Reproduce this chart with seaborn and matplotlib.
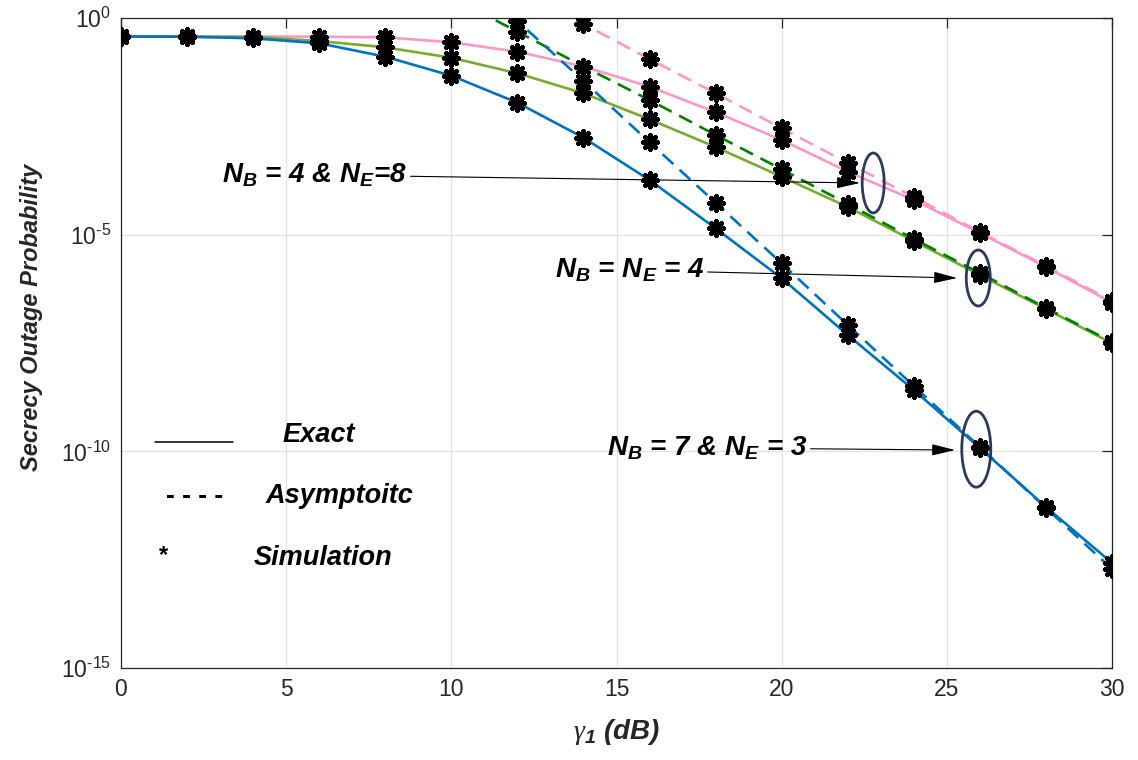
import numpy as np
import pandas as pd
import matplotlib
matplotlib.use("Agg")
import matplotlib.pyplot as plt
from matplotlib.patches import Ellipse
import seaborn as sns

# ---------------- data ----------------
snr_db = [0, 2, 4, 6, 8, 10, 12, 14, 16, 18, 20, 22, 24, 26, 28, 30]

# Exact curves
exact_nb7_ne3 = [0.374, 0.370, 0.340, 0.261, 0.128, 0.0466, 0.0111, 1.73e-3, 1.82e-4,
                 1.40e-5, 9.84e-7, 4.83e-8, 2.60e-9, 1.19e-10, 5.19e-12, 2.64e-13]
exact_nb4_ne4 = [0.374, 0.370, 0.365, 0.294, 0.211, 0.121, 0.0530, 0.0183, 4.59e-3,
                 1.05e-3, 2.17e-4, 4.35e-5, 7.13e-6, 1.17e-6, 1.92e-7, 3.11e-8]
exact_nb4_ne8 = [0.384, 0.378, 0.374, 0.370, 0.359, 0.275, 0.167, 0.0760, 0.0260,
                 6.67e-3, 1.53e-3, 2.84e-4, 6.31e-5, 1.09e-5, 1.79e-6, 2.69e-7]

# Asymptotic curves
asym_snr_nb7_ne3 = [10, 12, 14, 16, 18, 20, 22, 24, 26, 28, 30]
asym_nb7_ne3 = [21.8, 0.853, 0.0352, 1.35e-3, 5.46e-5, 2.18e-6, 8.22e-8, 3.21e-9,
                1.26e-10, 4.91e-12, 1.92e-13]
asym_snr_nb4_ne4 = [10, 12, 14, 16, 18, 20, 22, 24, 26, 28, 30]
asym_nb4_ne4 = [3.05, 0.483, 0.076, 0.0128, 2.0e-3, 3.22e-4, 5.09e-5, 7.94e-6,
                1.30e-6, 2.03e-7, 3.33e-8]
asym_snr_nb4_ne8 = [12, 14, 16, 18, 20, 22, 24, 26, 28, 30]
asym_nb4_ne8 = [4.6, 0.727, 0.113, 0.0183, 2.85e-3, 4.51e-4, 7.39e-5, 1.15e-5,
                1.89e-6, 2.94e-7]

x_ticks = [0, 5, 10, 15, 20, 25, 30]
y_ticks = [1e-15, 1e-10, 1e-5, 1e0]

labels_cases = [r"N$_{\mathbfit{B}}$ = 4 & N$_{\mathbfit{E}}$=8",
                r"N$_{\mathbfit{B}}$ = N$_{\mathbfit{E}}$ = 4",
                r"N$_{\mathbfit{B}}$ = 7 & N$_{\mathbfit{E}}$ = 3"]
legend_words = ["Exact", "Asymptoitc", "Simulation"]

# ---------------- style ----------------
sns.set_theme(style="whitegrid")
plt.rcParams["font.family"] = ["Liberation Sans", "DejaVu Sans"]
plt.rcParams["mathtext.fontset"] = "custom"
plt.rcParams["mathtext.rm"] = "Liberation Sans"
plt.rcParams["mathtext.it"] = "Liberation Sans:italic"
plt.rcParams["mathtext.bf"] = "Liberation Sans:bold"
plt.rcParams["mathtext.bfit"] = "Liberation Sans:bold:italic"
plt.rcParams["mathtext.cal"] = "Liberation Serif:italic"

BLUE = "#0072BD"
GREEN = "#77AC30"
DGREEN = "#008000"
PINK = "#FA98C9"
DARK = "#262626"

fig = plt.figure(figsize=(11.38, 7.60), dpi=100)
ax = fig.add_axes([0.1063, 0.1211, 0.8709, 0.8552])
ax.set_facecolor("white")
ax.set_yscale("log")

lw = 1.9
dash = (0, (5.5, 3.2))

exact_df = pd.DataFrame({"snr": snr_db, "b": exact_nb7_ne3, "g": exact_nb4_ne4, "p": exact_nb4_ne8})

sns.lineplot(x=asym_snr_nb4_ne8, y=asym_nb4_ne8, ax=ax, color=PINK, lw=lw, linestyle=dash, zorder=3)
sns.lineplot(x=asym_snr_nb4_ne4, y=asym_nb4_ne4, ax=ax, color=DGREEN, lw=lw, linestyle=dash, zorder=3)
sns.lineplot(x=asym_snr_nb7_ne3, y=asym_nb7_ne3, ax=ax, color=BLUE, lw=lw, linestyle=dash, zorder=3)
sns.lineplot(data=exact_df, x="snr", y="p", ax=ax, color=PINK, lw=lw, zorder=2)
sns.lineplot(data=exact_df, x="snr", y="g", ax=ax, color=GREEN, lw=lw, zorder=2)
sns.lineplot(data=exact_df, x="snr", y="b", ax=ax, color=BLUE, lw=lw, zorder=2)

# Simulation markers
sim_x = list(snr_db) * 3 + asym_snr_nb7_ne3 + asym_snr_nb4_ne4 + asym_snr_nb4_ne8
sim_y = exact_nb7_ne3 + exact_nb4_ne4 + exact_nb4_ne8 + asym_nb7_ne3 + asym_nb4_ne4 + asym_nb4_ne8
sns.scatterplot(x=sim_x, y=sim_y, ax=ax, marker=(8, 2, 0), s=105, color="black",
                edgecolor="black", facecolor="black", linewidth=3.3, zorder=5, legend=False)

ax.set_xlim(0, 30)
ax.set_ylim(1e-15, 1e0)
ax.set_xticks(x_ticks)
ax.set_yticks(y_ticks)
ax.yaxis.set_minor_locator(matplotlib.ticker.NullLocator())
ax.set_xticklabels([str(v) for v in x_ticks])
ax.set_yticklabels([r"$\mathdefault{10^{\text{%d}}}$" % int(np.log10(v)) for v in y_ticks])

ax.grid(True, color="#E2E2E2", lw=0.9)
for s in ax.spines.values():
    s.set_visible(True)
    s.set_color(DARK)
    s.set_linewidth(0.9)
ax.tick_params(axis="both", which="major", direction="in", length=7, width=0.9,
               color=DARK, top=True, right=True, labelsize=16.5, labelcolor=DARK, pad=7)

ax.set_ylabel("Secrecy Outage Probability", fontsize=17, fontweight="bold", fontstyle="italic",
              color=DARK)
ax.yaxis.set_label_coords(-0.079, 0.54)
ax.set_xlabel(r"$\mathcal{\gamma}_{\mathbfit{1}}$ (dB)", fontsize=20, fontweight="bold",
              fontstyle="italic", color=DARK, labelpad=12)

# ---------------- annotations ----------------
ann_text_pos = [(3.06, 2.4e-4), (13.14, 1.52e-6), (14.71, 1.2e-10)]
ann_tip_pos = [(22.37, 1.56e-4), (25.31, 1.0e-6), (25.25, 1.07e-10)]
ell_center = [(22.77, 1.56e-4), (25.95, 1.0e-6), (25.89, 1.12e-10)]
ell_size_px = [(22, 60), (24, 56), (29, 76)]

for lab, tp, tip in zip(labels_cases, ann_text_pos, ann_tip_pos):
    ax.annotate(lab, xy=tip, xytext=tp, textcoords="data", ha="left", va="center",
                fontsize=20, fontweight="bold", fontstyle="italic", color="black",
                arrowprops=dict(arrowstyle="-|>,head_length=0.9,head_width=0.22", color="black",
                                lw=0.8, shrinkA=0, shrinkB=0, mutation_scale=16),
                zorder=6)

fig.canvas.draw()
bbox = ax.get_window_extent()
for c, (wpx, hpx) in zip(ell_center, ell_size_px):
    cx, cy = ax.transAxes.inverted().transform(ax.transData.transform(c))
    e = Ellipse((cx, cy), wpx / bbox.width, hpx / bbox.height, transform=ax.transAxes,
                fill=False, edgecolor="#2B3A5C", lw=2.0, zorder=7)
    ax.add_patch(e)

# ---------------- custom legend (text) ----------------
ax.plot([0.0343, 0.1130], [0.348, 0.348], transform=ax.transAxes, color="black", lw=1.1, zorder=6)
ax.text(0.1635, 0.348, legend_words[0], transform=ax.transAxes, fontsize=19.5, fontweight="bold",
        fontstyle="italic", ha="left", va="baseline", color="black")
ax.text(0.0454, 0.254, "- - - -", transform=ax.transAxes, fontsize=19, fontweight="bold",
        ha="left", va="baseline", color="black")
ax.text(0.1463, 0.254, legend_words[1], transform=ax.transAxes, fontsize=19.5, fontweight="bold",
        fontstyle="italic", ha="left", va="baseline", color="black")
ax.text(0.0383, 0.163, "*", transform=ax.transAxes, fontsize=17, fontweight="bold",
        ha="left", va="baseline", color="black")
ax.text(0.1342, 0.158, legend_words[2], transform=ax.transAxes, fontsize=19.5, fontweight="bold",
        fontstyle="italic", ha="left", va="baseline", color="black")

fig.savefig("out.png", dpi=100, facecolor="white")
